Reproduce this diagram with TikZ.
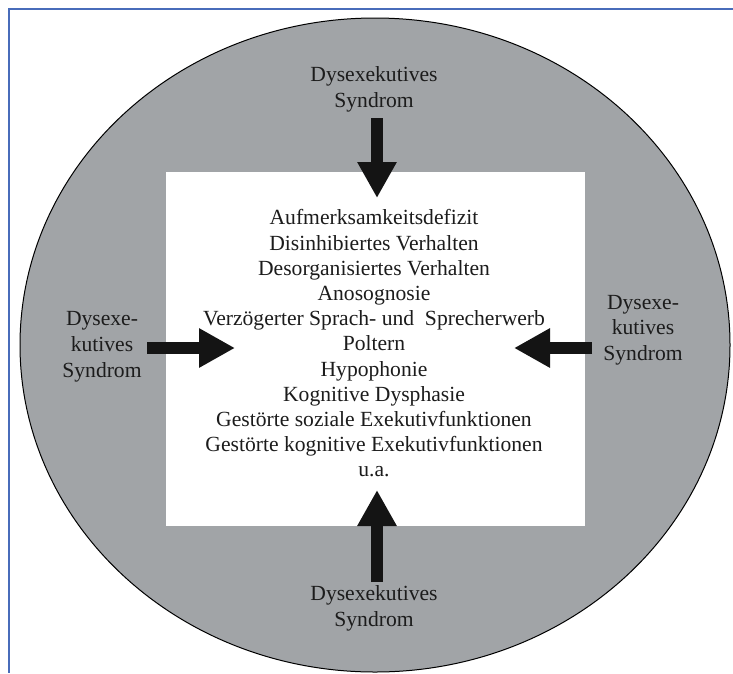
\documentclass[tikz,border=0pt]{standalone}
\usepackage{fontspec}
\setmainfont{Liberation Serif}
\usetikzlibrary{arrows.meta, positioning}
\definecolor{dsgray}{RGB}{161, 164, 167}
\definecolor{dsframe}{RGB}{72, 108, 186}
\definecolor{dstext}{RGB}{28, 28, 28}

\begin{document}
\begin{tikzpicture}[x=1pt, y=-1pt,
    lbl/.style={align=center, inner sep=0pt, text=dstext,
        font=\fontsize{21.6}{25.8}\selectfont},
    bigarrow/.style={-{Triangle[length=36pt, width=37pt]},
        line width=12.5pt, draw=black!92}]

\useasboundingbox (0,0) rectangle (733,673);

% === Rahmen ===
\draw[dsframe, line width=1.4pt] (733,9) -- (9,9) -- (9,673);

% === Ellipse ===
\draw[fill=dsgray, line width=1pt] (375,345) ellipse [x radius=355pt, y radius=327pt];

% === Weisses Feld ===
\node[fill=white, minimum width=419pt, minimum height=354pt, inner sep=0pt] (feld) at (375.5,349) {};

% Symptome
\node[lbl, font=\fontsize{21.6}{25.2}\selectfont] (liste) at (374,343.5) {%
    Aufmerksamkeitsdefizit\\
    Disinhibiertes Verhalten\\
    Desorganisiertes Verhalten\\
    Anosognosie\\
    Verzögerter Sprach- und\ \ Sprecherwerb\\
    Poltern\\
    Hypophonie\\
    Kognitive Dysphasie\\
    Gestörte soziale Exekutivfunktionen\\
    Gestörte kognitive Exekutivfunktionen\\
    u.a.};

% === Beschriftungen ===
\node[lbl] (lblO) at (374,89) {Dysexekutives\\Syndrom};
\node[lbl] (lblU) at (374,608.7) {Dysexekutives\\Syndrom};
\node[lbl] (lblL) at (102,346.7) {Dysexe-\\kutives\\Syndrom};
\node[lbl] (lblR) at (643,330.2) {Dysexe-\\kutives\\Syndrom};

% === Pfeile ===
\coordinate (startO) at (377,118);
\coordinate (spitzeO) at (377,198);
\coordinate (startU) at (377,582);
\coordinate (spitzeU) at (377,490);
\coordinate (startL) at (147,348);
\coordinate (spitzeL) at (235,348);
\coordinate (startR) at (592,348);
\coordinate (spitzeR) at (514,348);

\draw[bigarrow] (startO) -- (spitzeO);
\draw[bigarrow] (startU) -- (spitzeU);
\draw[bigarrow] (startL) -- (spitzeL);
\draw[bigarrow] (startR) -- (spitzeR);

\end{tikzpicture}
\end{document}
